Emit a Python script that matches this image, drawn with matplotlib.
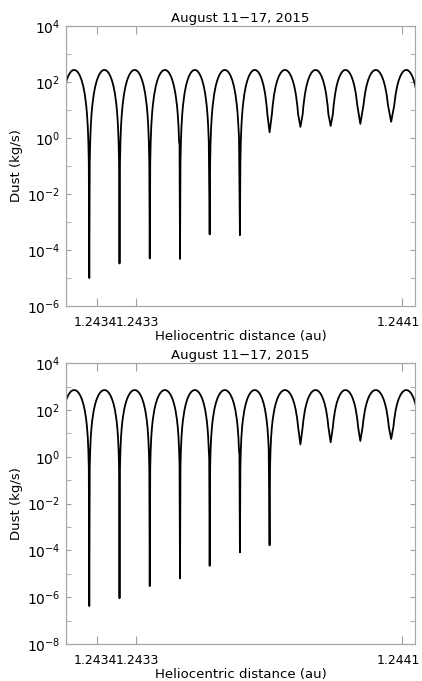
import numpy as np
import matplotlib
matplotlib.use("Agg")
import matplotlib.pyplot as plt
from matplotlib.ticker import NullFormatter, NullLocator
from matplotlib.transforms import ScaledTranslation

# time axis (days from start of Aug 11, 2015)
dip_days = [0.40, 0.92, 1.44, 1.96, 2.47, 2.99, 3.50, 4.03, 4.55, 5.06, 5.59]
half_period = 0.26
x_ticks = [0.533, 1.203, 5.776]
x_ticklabels = ["1.2434", "1.2433", "1.2441"]

# shape of one arch: distance from peak (fraction of
# half rotation) and drop below the peak in decades
arch_d = [0, 0.1, 0.2, 0.3, 0.4, 0.5, 0.6, 0.7, 0.8, 0.85, 0.9, 0.94, 0.97]
arch_drop = [0, -0.013, -0.054, -0.125, -0.23, -0.376, -0.577, -0.857,
             -1.275, -1.58, -2.01, -2.57, -3.32]

# top panel
peak_top = 270.0
lows_top = [1e-5, 3.3e-5, 5e-5, 4.8e-5, 3.6e-4, 3.4e-4, 1.6, 2.5, 2.7, 3.2, 3.8]
kinks_top = [np.nan, np.nan, np.nan, 0.6, 0.75, 1.1, np.nan, np.nan, np.nan, np.nan, np.nan]

# bottom panel
peak_bot = 720.0
lows_bot = [4.2e-7, 9e-7, 3e-6, 6.4e-6, 2.2e-5, 8.3e-5, 1.66e-4, 3.4, 4.2, 4.8, 5.8]
kinks_bot = [np.nan, np.nan, np.nan, 0.45, 0.75, 1.2, 2.4, np.nan, np.nan, np.nan, np.nan]


def trace(peak, lows, kinks):
    lp = np.log10(peak)
    d = np.array(arch_d)
    drop = np.array(arch_drop)
    bounds = [dip_days[0] - 2 * half_period] + dip_days + [dip_days[-1] + 2 * half_period]
    xs, ys = [], []
    for j in range(len(bounds) - 1):
        left, right = bounds[j], bounds[j + 1]
        c = (left + right) / 2
        h = (right - left) / 2
        # rising side, out of previous dip (leave room so the bottom stays pointed)
        floor_l = np.log10(lows[j - 1]) + 0.35 if j > 0 else -np.inf
        keep = lp + drop > floor_l
        xs += list(c - d[keep][::-1] * h)
        ys += list(lp + drop[keep][::-1])
        # falling side, into next dip
        if j < len(dip_days):
            stop = np.log10(lows[j]) + 0.35
            if not np.isnan(kinks[j]):
                stop = np.log10(kinks[j])
            keep = lp + drop > stop
            keep[0] = False
            xs += list(c + d[keep] * h)
            ys += list(lp + drop[keep])
            if not np.isnan(kinks[j]):
                n = keep.sum() + 1
                xs.append(c + d[min(n, len(d) - 1)] * h)
                ys.append(np.log10(kinks[j]))
            xs.append(dip_days[j])
            ys.append(np.log10(lows[j]))
        else:
            xs += list(c + d[1:] * h)
            ys += list(lp + drop[1:])
    return np.array(xs), 10 ** np.array(ys)


def panel(ax, peak, lows, kinks, ymin):
    x, y = trace(peak, lows, kinks)
    ax.plot(x, y, color="black", lw=1.3)
    ax.set_yscale("log")
    ax.set_xlim(0, 6.0)
    ax.set_ylim(10.0 ** ymin, 1e4)
    ax.set_yticks([10.0 ** e for e in range(ymin, 5, 2)])
    ax.set_yticks([10.0 ** e for e in range(ymin + 1, 4, 2)], minor=True)
    ax.yaxis.set_minor_formatter(NullFormatter())
    ax.set_xticks(x_ticks)
    ax.set_xticklabels(x_ticklabels)
    ax.xaxis.set_minor_locator(NullLocator())
    ax.tick_params(which="both", direction="in", top=True, right=True,
                   color="#a0a0a0", labelsize=10)
    ax.tick_params(axis="x", length=6, pad=7, labelsize=9)
    ax.tick_params(axis="y", which="both", length=3.5, pad=4)
    # nudge tick labels a little, like in the original
    for lab, dx in zip(ax.get_xticklabels(), [-1.5, 1.5, -3.5]):
        lab.set_transform(lab.get_transform() + ScaledTranslation(dx / 100, 0, fig.dpi_scale_trans))
    for s in ax.spines.values():
        s.set_color("#a8a8a8")
        s.set_linewidth(0.9)
    ax.set_title("August 11\u221217, 2015", fontsize=9.5, pad=3)
    ax.set_xlabel("Heliocentric distance (au)", fontsize=9.5, labelpad=1)
    ax.set_ylabel("Dust (kg/s)", fontsize=9.5, labelpad=3)


fig = plt.figure(figsize=(4.22, 6.81), dpi=100)
ax1 = fig.add_axes([66 / 422, 1 - 306 / 681, 349 / 422, 280 / 681])
ax2 = fig.add_axes([66 / 422, 1 - 644 / 681, 349 / 422, 280.7 / 681])
panel(ax1, peak_top, lows_top, kinks_top, -6)
panel(ax2, peak_bot, lows_bot, kinks_bot, -8)

fig.savefig("out.png", dpi=100)
